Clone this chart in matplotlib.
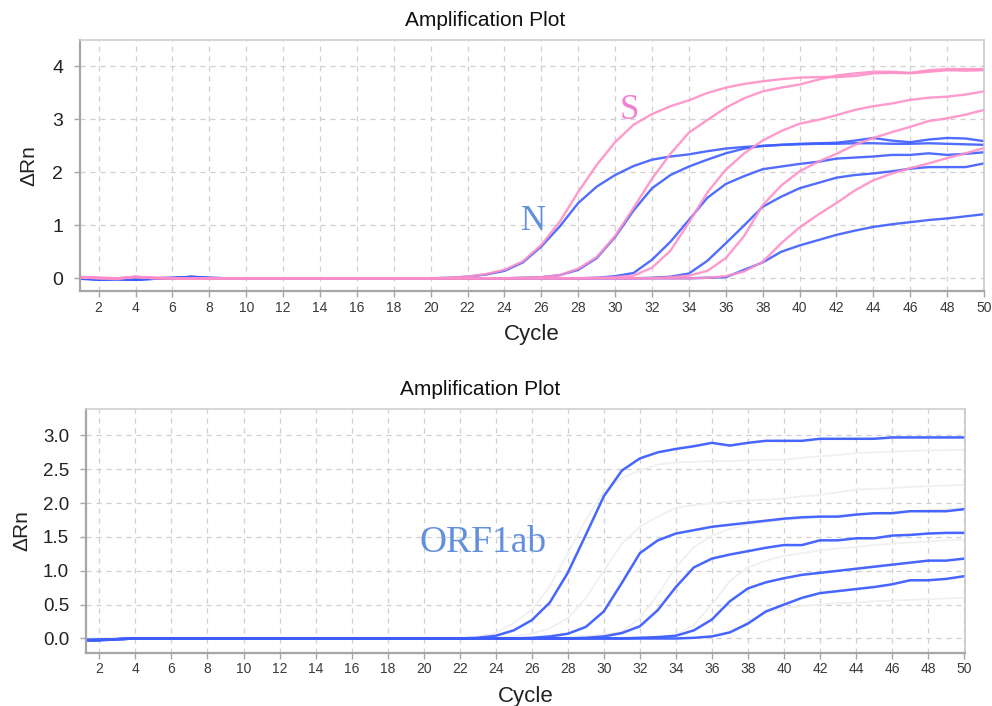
import matplotlib
matplotlib.use("Agg")
import matplotlib.pyplot as plt

cycles = list(range(1, 51))

# ---- Top panel: N gene (blue) and S gene (pink) ----
N_curves = [
    [-0.01, -0.03, -0.02, -0.03, -0.01, 0.00, 0.03, 0.01, 0.00, 0.00,
     0.00, 0.00, 0.00, 0.00, 0.00, 0.00, 0.00, 0.00, 0.00, 0.00,
     0.01, 0.03, 0.07, 0.14, 0.30, 0.60, 0.98, 1.42, 1.73, 1.95,
     2.12, 2.24, 2.30, 2.34, 2.40, 2.45, 2.48, 2.50, 2.52, 2.53,
     2.54, 2.54, 2.55, 2.55, 2.54, 2.54, 2.55, 2.54, 2.53, 2.52],
    [0.00, -0.02, -0.01, -0.02, 0.00, 0.01, 0.02, 0.00, 0.00, 0.00,
     0.00, 0.00, 0.00, 0.00, 0.00, 0.00, 0.00, 0.00, 0.00, 0.00,
     0.00, 0.00, 0.00, 0.00, 0.01, 0.02, 0.06, 0.16, 0.38, 0.78,
     1.28, 1.70, 1.95, 2.11, 2.24, 2.36, 2.45, 2.50, 2.52, 2.54,
     2.55, 2.56, 2.60, 2.65, 2.60, 2.57, 2.62, 2.65, 2.64, 2.59],
    [0.00, -0.01, -0.01, -0.02, 0.00, 0.00, 0.02, 0.00, 0.00, 0.00,
     0.00, 0.00, 0.00, 0.00, 0.00, 0.00, 0.00, 0.00, 0.00, 0.00,
     0.00, 0.00, 0.00, 0.00, 0.00, 0.00, 0.00, 0.00, 0.01, 0.04,
     0.10, 0.35, 0.69, 1.10, 1.52, 1.78, 1.93, 2.06, 2.11, 2.16,
     2.20, 2.26, 2.28, 2.30, 2.33, 2.33, 2.36, 2.33, 2.35, 2.38],
    [0.00, -0.02, -0.01, -0.01, 0.00, 0.01, 0.02, 0.00, 0.00, 0.00,
     0.00, 0.00, 0.00, 0.00, 0.00, 0.00, 0.00, 0.00, 0.00, 0.00,
     0.00, 0.00, 0.00, 0.00, 0.00, 0.00, 0.00, 0.00, 0.00, 0.00,
     0.00, 0.01, 0.03, 0.09, 0.33, 0.66, 1.00, 1.35, 1.54, 1.70,
     1.80, 1.90, 1.95, 1.98, 2.02, 2.07, 2.10, 2.10, 2.10, 2.17],
    [0.00, -0.02, -0.02, -0.03, -0.01, 0.00, 0.03, 0.01, 0.00, 0.00,
     0.00, 0.00, 0.00, 0.00, 0.00, 0.00, 0.00, 0.00, 0.00, 0.00,
     0.00, 0.00, 0.00, 0.00, 0.00, 0.00, 0.00, 0.00, 0.00, 0.00,
     0.00, 0.00, 0.00, 0.00, 0.01, 0.02, 0.16, 0.30, 0.50, 0.62,
     0.72, 0.82, 0.90, 0.97, 1.02, 1.06, 1.10, 1.13, 1.17, 1.21],
]

S_curves = [
    [0.02, 0.01, -0.01, 0.03, 0.01, 0.00, -0.01, 0.00, 0.00, 0.00,
     0.00, 0.00, 0.00, 0.00, 0.00, 0.00, 0.00, 0.00, 0.00, 0.00,
     0.01, 0.03, 0.08, 0.16, 0.32, 0.63, 1.07, 1.63, 2.14, 2.57,
     2.90, 3.10, 3.25, 3.36, 3.50, 3.60, 3.67, 3.72, 3.76, 3.79,
     3.80, 3.80, 3.82, 3.87, 3.88, 3.87, 3.90, 3.93, 3.92, 3.93],
    [0.03, 0.01, 0.00, 0.02, 0.01, 0.00, -0.01, 0.00, 0.00, 0.00,
     0.00, 0.00, 0.00, 0.00, 0.00, 0.00, 0.00, 0.00, 0.00, 0.00,
     0.00, 0.00, 0.00, 0.00, 0.01, 0.02, 0.06, 0.18, 0.40, 0.80,
     1.33, 1.88, 2.35, 2.75, 2.99, 3.22, 3.40, 3.53, 3.60, 3.66,
     3.75, 3.83, 3.87, 3.90, 3.90, 3.88, 3.93, 3.95, 3.95, 3.95],
    [0.02, 0.00, 0.00, 0.03, 0.00, 0.00, -0.01, 0.00, 0.00, 0.00,
     0.00, 0.00, 0.00, 0.00, 0.00, 0.00, 0.00, 0.00, 0.00, 0.00,
     0.00, 0.00, 0.00, 0.00, 0.00, 0.00, 0.00, 0.00, 0.01, 0.02,
     0.05, 0.20, 0.52, 1.05, 1.62, 2.05, 2.36, 2.60, 2.78, 2.92,
     2.99, 3.08, 3.18, 3.25, 3.30, 3.37, 3.41, 3.43, 3.47, 3.53],
    [0.01, 0.01, 0.00, 0.02, 0.01, 0.00, 0.00, 0.00, 0.00, 0.00,
     0.00, 0.00, 0.00, 0.00, 0.00, 0.00, 0.00, 0.00, 0.00, 0.00,
     0.00, 0.00, 0.00, 0.00, 0.00, 0.00, 0.00, 0.00, 0.00, 0.00,
     0.00, 0.00, 0.02, 0.05, 0.14, 0.38, 0.80, 1.38, 1.75, 2.02,
     2.20, 2.35, 2.52, 2.65, 2.76, 2.86, 2.97, 3.02, 3.09, 3.18],
    [0.02, 0.00, -0.01, 0.03, 0.00, 0.00, -0.01, 0.00, 0.00, 0.00,
     0.00, 0.00, 0.00, 0.00, 0.00, 0.00, 0.00, 0.00, 0.00, 0.00,
     0.00, 0.00, 0.00, 0.00, 0.00, 0.00, 0.00, 0.00, 0.00, 0.00,
     0.00, 0.00, 0.00, 0.00, 0.01, 0.04, 0.13, 0.31, 0.66, 0.96,
     1.20, 1.42, 1.66, 1.85, 1.98, 2.08, 2.17, 2.27, 2.36, 2.46],
]

# ---- Bottom panel: ORF1ab (blue) and faint background traces ----
ORF_curves = [
    [-0.03, -0.03, -0.01, 0.00, 0.00, 0.00, 0.00, 0.00, 0.00, 0.00,
     0.00, 0.00, 0.00, 0.00, 0.00, 0.00, 0.00, 0.00, 0.00, 0.00,
     0.00, 0.00, 0.01, 0.04, 0.12, 0.27, 0.53, 0.97, 1.53, 2.10,
     2.48, 2.66, 2.75, 2.80, 2.84, 2.89, 2.85, 2.89, 2.92, 2.92,
     2.92, 2.95, 2.95, 2.95, 2.95, 2.97, 2.97, 2.97, 2.97, 2.97],
    [-0.03, -0.02, -0.01, 0.00, 0.00, 0.00, 0.00, 0.00, 0.00, 0.00,
     0.00, 0.00, 0.00, 0.00, 0.00, 0.00, 0.00, 0.00, 0.00, 0.00,
     0.00, 0.00, 0.00, 0.00, 0.00, 0.01, 0.03, 0.07, 0.17, 0.40,
     0.82, 1.26, 1.45, 1.55, 1.60, 1.65, 1.68, 1.71, 1.74, 1.77,
     1.79, 1.80, 1.80, 1.83, 1.85, 1.85, 1.88, 1.88, 1.88, 1.91],
    [-0.02, -0.02, -0.01, 0.00, 0.00, 0.00, 0.00, 0.00, 0.00, 0.00,
     0.00, 0.00, 0.00, 0.00, 0.00, 0.00, 0.00, 0.00, 0.00, 0.00,
     0.00, 0.00, 0.00, 0.00, 0.00, 0.00, 0.00, 0.00, 0.01, 0.03,
     0.08, 0.18, 0.42, 0.76, 1.05, 1.18, 1.24, 1.29, 1.34, 1.38,
     1.38, 1.45, 1.45, 1.48, 1.48, 1.52, 1.53, 1.55, 1.56, 1.56],
    [-0.03, -0.02, -0.01, 0.00, 0.00, 0.00, 0.00, 0.00, 0.00, 0.00,
     0.00, 0.00, 0.00, 0.00, 0.00, 0.00, 0.00, 0.00, 0.00, 0.00,
     0.00, 0.00, 0.00, 0.00, 0.00, 0.00, 0.00, 0.00, 0.00, 0.00,
     0.00, 0.01, 0.02, 0.04, 0.12, 0.28, 0.55, 0.74, 0.83, 0.89,
     0.94, 0.97, 1.00, 1.03, 1.06, 1.09, 1.12, 1.15, 1.15, 1.18],
    [-0.02, -0.02, -0.01, 0.00, 0.00, 0.00, 0.00, 0.00, 0.00, 0.00,
     0.00, 0.00, 0.00, 0.00, 0.00, 0.00, 0.00, 0.00, 0.00, 0.00,
     0.00, 0.00, 0.00, 0.00, 0.00, 0.00, 0.00, 0.00, 0.00, 0.00,
     0.00, 0.00, 0.00, 0.00, 0.01, 0.03, 0.09, 0.22, 0.40, 0.50,
     0.60, 0.67, 0.70, 0.73, 0.76, 0.80, 0.86, 0.86, 0.88, 0.92],
]

faint_curves = [
    [0.00, 0.00, 0.00, 0.00, 0.00, 0.00, 0.00, 0.00, 0.00, 0.00,
     0.00, 0.00, 0.00, 0.00, 0.00, 0.00, 0.00, 0.00, 0.00, 0.00,
     0.00, 0.01, 0.03, 0.08, 0.23, 0.42, 0.77, 1.26, 1.75, 2.17,
     2.37, 2.48, 2.57, 2.60, 2.61, 2.62, 2.62, 2.63, 2.64, 2.64,
     2.67, 2.69, 2.71, 2.74, 2.75, 2.76, 2.77, 2.78, 2.78, 2.79],
    [0.00, 0.00, 0.00, 0.00, 0.00, 0.00, 0.00, 0.00, 0.00, 0.00,
     0.00, 0.00, 0.00, 0.00, 0.00, 0.00, 0.00, 0.00, 0.00, 0.00,
     0.00, 0.00, 0.00, 0.01, 0.03, 0.07, 0.15, 0.30, 0.60, 1.00,
     1.40, 1.65, 1.80, 1.93, 1.97, 2.00, 2.02, 2.04, 2.05, 2.07,
     2.10, 2.12, 2.16, 2.20, 2.21, 2.22, 2.24, 2.25, 2.26, 2.27],
    [0.00, 0.00, 0.00, 0.00, 0.00, 0.00, 0.00, 0.00, 0.00, 0.00,
     0.00, 0.00, 0.00, 0.00, 0.00, 0.00, 0.00, 0.00, 0.00, 0.00,
     0.00, 0.00, 0.00, 0.00, 0.00, 0.00, 0.01, 0.02, 0.04, 0.06,
     0.10, 0.30, 0.65, 1.05, 1.35, 1.52, 1.62, 1.68, 1.72, 1.75,
     1.77, 1.80, 1.82, 1.84, 1.85, 1.87, 1.88, 1.90, 1.91, 1.93],
    [0.00, 0.00, 0.00, 0.00, 0.00, 0.00, 0.00, 0.00, 0.00, 0.00,
     0.00, 0.00, 0.00, 0.00, 0.00, 0.00, 0.00, 0.00, 0.00, 0.00,
     0.00, 0.00, 0.00, 0.00, 0.00, 0.00, 0.00, 0.00, 0.00, 0.01,
     0.01, 0.02, 0.03, 0.05, 0.20, 0.50, 0.85, 1.05, 1.15, 1.22,
     1.26, 1.30, 1.33, 1.35, 1.38, 1.40, 1.42, 1.43, 1.45, 1.46],
    [0.00, 0.00, 0.00, 0.00, 0.00, 0.00, 0.00, 0.00, 0.00, 0.00,
     0.00, 0.00, 0.00, 0.00, 0.00, 0.00, 0.00, 0.00, 0.00, 0.00,
     0.00, 0.00, 0.00, 0.00, 0.00, 0.00, 0.00, 0.00, 0.00, 0.00,
     0.00, 0.00, 0.00, 0.00, 0.01, 0.03, 0.10, 0.25, 0.38, 0.45,
     0.48, 0.50, 0.52, 0.53, 0.55, 0.56, 0.57, 0.58, 0.59, 0.60],
]

x_ticks = list(range(2, 51, 2))
top_y_ticks = [0, 1, 2, 3, 4]
bot_y_ticks = [0.0, 0.5, 1.0, 1.5, 2.0, 2.5, 3.0]

title_text = "Amplification Plot"
x_label = "Cycle"
y_label = "ΔRn"

BLUE = "#3d5dff"
PINK = "#ff8fc8"
FAINT = "#f0f0f0"
LABEL_BLUE = "#6290dc"
LABEL_PINK = "#f27fd0"
SPINE = "#a6a6a6"
GRID = "#cfcfcf"

SANS = ["Liberation Sans", "DejaVu Sans"]
SERIF = ["Liberation Serif", "DejaVu Serif"]

fig = plt.figure(figsize=(9.92, 7.06), dpi=100)
fig.patch.set_facecolor("white")


def style_axes(ax, yticks, yfmt, ytick_size, ylabpad, title_x):
    ax.set_xticks(x_ticks)
    ax.set_xticklabels([str(t) for t in x_ticks], fontsize=10,
                       family=SANS, color="#3a3a3a")
    ax.set_yticks(yticks)
    ax.set_yticklabels([yfmt.format(t) for t in yticks], fontsize=ytick_size,
                       family=SANS, color="#222222")
    ax.grid(True, color=GRID, linestyle=(0, (4, 4)), linewidth=0.9)
    ax.set_axisbelow(True)
    for sp in ax.spines.values():
        sp.set_color(SPINE)
        sp.set_linewidth(1.6)
    ax.spines["top"].set_color("#d0d0d0")
    ax.spines["top"].set_linewidth(1.2)
    ax.spines["right"].set_color("#c8c8c8")
    ax.spines["right"].set_linewidth(1.2)
    ax.tick_params(axis="x", direction="out", length=4, width=1,
                   color=SPINE, pad=3)
    ax.tick_params(axis="y", direction="out", length=4, width=1,
                   color=SPINE, pad=8)
    ax.set_xlabel(x_label, fontsize=16, family=SANS, color="#222222", labelpad=7)
    ax.set_ylabel(y_label, fontsize=15, family=SANS, color="#222222",
                  labelpad=ylabpad)
    ax.set_title(title_text, fontsize=15, family=SANS, color="#111111",
                 pad=10, x=title_x)


# Top panel
ax1 = fig.add_axes([80 / 992, 1 - 291 / 706, 904 / 992, 251 / 706])
for ys in N_curves:
    ax1.plot(cycles, ys, color=BLUE, lw=1.7, alpha=0.9, solid_joinstyle="round")
for ys in S_curves:
    ax1.plot(cycles, ys, color=PINK, lw=1.7, alpha=0.9, solid_joinstyle="round")
ax1.set_xlim(0.99, 50)
ax1.set_ylim(-0.24, 4.5)
style_axes(ax1, top_y_ticks, "{:d}", 14, 10, 0.448)
ax1.text(30.76, 3.17, "S", color=LABEL_PINK, fontsize=25, family=SERIF,
         ha="center", va="center")
ax1.text(25.55, 1.07, "N", color=LABEL_BLUE, fontsize=25, family=SERIF,
         ha="center", va="center")

# Bottom panel
ax2 = fig.add_axes([85.7 / 992, 1 - 652.7 / 706, (965 - 85.7) / 992,
                    (652.7 - 409) / 706])
for ys in faint_curves:
    ax2.plot(cycles, ys, color=FAINT, lw=1.3)
for ys in ORF_curves:
    ax2.plot(cycles, ys, color=BLUE, lw=1.8, alpha=0.95, solid_joinstyle="round")
ax2.set_xlim(1.24, 50.05)
ax2.set_ylim(-0.21, 3.39)
style_axes(ax2, bot_y_ticks, "{:.1f}", 13.5, 8, 0.449)
ax2.text(23.3, 1.42, "ORF1ab", color=LABEL_BLUE, fontsize=27, family=SERIF,
         ha="center", va="center")

fig.savefig("out.png", dpi=100, facecolor="white")
